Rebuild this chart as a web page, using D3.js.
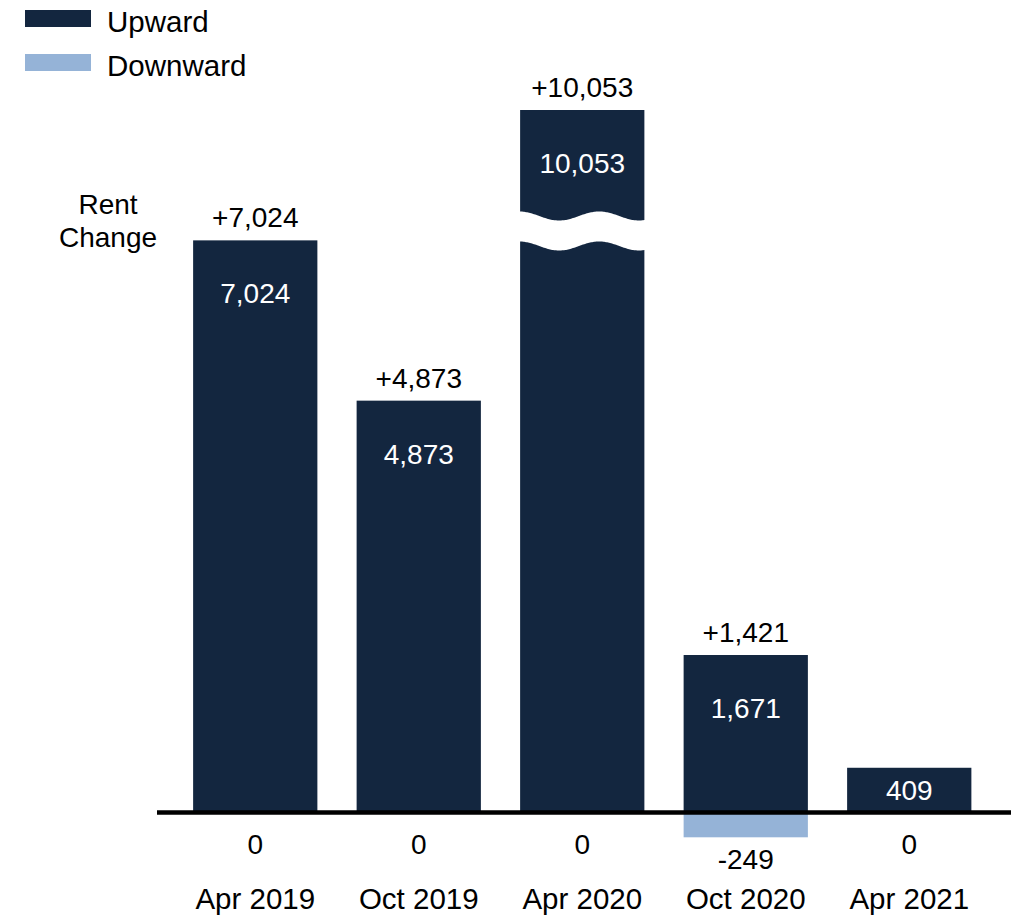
<!DOCTYPE html>
<html>
<head>
<meta charset="utf-8">
<script src="https://cdn.jsdelivr.net/npm/d3@7"></script>
<style>
  body { margin: 0; background: #fff; }
  text { font-family: "Liberation Sans", Arial, sans-serif; }
</style>
</head>
<body>
<div id="chart"></div>
<script>
// Rent change by review period: upward vs downward revisions

////////////////////////////////////////////////////////////////////////
// Data

const periods   = ["Apr 2019", "Oct 2019", "Apr 2020", "Oct 2020", "Apr 2021"];
const upward    = [7024, 4873, 10053, 1671, 409];
const downward  = [0, 0, 0, -249, 0];
const netChange = [7024, 4873, 10053, 1421, null];   // no net label on the last bar

// value where the axis is broken (taller bars get the wavy cut)
const axisCap = 8825;

////////////////////////////////////////////////////////////////////////
// Layout

let width = 1011, height = 915;
let upColor = "#13263f", downColor = "#95b3d7";

let svg = d3.select("#chart").append("svg")
  .attr("width", width)
  .attr("height", height);

// bars are not to a strict linear scale in the original, pow fits better
let x = d3.scaleBand()
  .domain(periods)
  .range([173.5, 991])
  .paddingInner(0.24)
  .paddingOuter(0.12);

let y = d3.scalePow().exponent(0.9)
  .domain([0, axisCap])
  .range([812, 110]);

let rows = periods.map((p, i) => ({
  period: p, up: upward[i], down: downward[i], net: netChange[i]
}));

// plain hyphen for negatives, like the original
let fmt = v => d3.format(",")(v).replace("\u2212", "-");

////////////////////////////////////////////////////////////////////////
// Bars

let g = svg.append("g");

g.selectAll("rect.up")
  .data(rows).enter().append("rect")
  .attr("class", "up")
  .attr("x", d => x(d.period))
  .attr("width", x.bandwidth())
  .attr("y", d => y(Math.min(d.up, axisCap)))
  .attr("height", d => y(0) - y(Math.min(d.up, axisCap)))
  .attr("fill", upColor);

g.selectAll("rect.down")
  .data(rows.filter(d => d.down < 0)).enter().append("rect")
  .attr("class", "down")
  .attr("x", d => x(d.period))
  .attr("width", x.bandwidth())
  .attr("y", y(0))
  .attr("height", d => y(d.down) - y(0) - 3)
  .attr("fill", downColor);

// wavy break on bars taller than the cap
let wave = 80, amp = 4.5;
function breakPath(d) {
  let x0 = x(d.period) - 1, x1 = x0 + x.bandwidth() + 2;
  let top = y(axisCap) + 106, gap = 30;
  let xs = d3.range(x0, x1 + 1, 2);
  let upper = xs.map(v => [v, top - amp * Math.cos(2 * Math.PI * (v - x0) / wave)]);
  let lower = xs.slice().reverse()
    .map(v => [v, top + gap - amp * Math.cos(2 * Math.PI * (v - x0) / wave)]);
  return d3.line().curve(d3.curveBasis)(upper) + "L" +
         d3.line().curve(d3.curveBasis)(lower).slice(1) + "Z";
}

g.selectAll("path.break")
  .data(rows.filter(d => d.up > axisCap)).enter().append("path")
  .attr("class", "break")
  .attr("d", breakPath)
  .attr("fill", "#fff");

// zero line
svg.append("line")
  .attr("x1", 157).attr("x2", width)
  .attr("y1", y(0) + 0.5).attr("y2", y(0) + 0.5)
  .attr("stroke", "#000")
  .attr("stroke-width", 4.5);

////////////////////////////////////////////////////////////////////////
// Labels

let mid = d => x(d.period) + x.bandwidth() / 2;

// net change above each bar
g.selectAll("text.net")
  .data(rows.filter(d => d.net != null)).enter().append("text")
  .attr("class", "net")
  .attr("x", mid)
  .attr("y", d => y(Math.min(d.up, axisCap)) - 13)
  .attr("text-anchor", "middle")
  .attr("font-size", 28)
  .text(d => "+" + fmt(d.net));

// upward value inside the bar
g.selectAll("text.upval")
  .data(rows).enter().append("text")
  .attr("class", "upval")
  .attr("x", mid)
  .attr("y", d => {
    let top = y(Math.min(d.up, axisCap));
    return Math.min(top + 63, (top + y(0)) / 2 + 10);
  })
  .attr("text-anchor", "middle")
  .attr("font-size", 28)
  .attr("fill", "#fff")
  .text(d => fmt(d.up));

// downward value below the line
g.selectAll("text.downval")
  .data(rows).enter().append("text")
  .attr("class", "downval")
  .attr("x", mid)
  .attr("y", d => Math.max(854, y(d.down) + 29))
  .attr("text-anchor", "middle")
  .attr("font-size", 28)
  .text(d => d.down === 0 ? "0" : fmt(d.down));

// period labels
let xAxis = svg.append("g")
  .attr("transform", "translate(0,882)")
  .call(d3.axisBottom(x).tickSize(0).tickPadding(0));
xAxis.select(".domain").remove();
xAxis.selectAll("text")
  .attr("font-size", 29.5)
  .attr("font-family", "Liberation Sans, Arial, sans-serif")
  .attr("fill", "#000")
  .attr("dy", "0.9em");

// axis title
let title = svg.append("text")
  .attr("x", 108)
  .attr("text-anchor", "middle")
  .attr("font-size", 28);
title.append("tspan").attr("x", 108).attr("y", 214).text("Rent");
title.append("tspan").attr("x", 108).attr("y", 247).text("Change");

////////////////////////////////////////////////////////////////////////
// Legend

let legendItems = [["Upward", upColor], ["Downward", downColor]];
let legend = svg.append("g").selectAll("g")
  .data(legendItems).enter().append("g")
  .attr("transform", (d, i) => "translate(25," + (10 + i * 44) + ")");

legend.append("rect")
  .attr("width", 66).attr("height", 17)
  .attr("fill", d => d[1]);

legend.append("text")
  .attr("x", 82).attr("y", 22)
  .attr("font-size", 29.5)
  .text(d => d[0]);
</script>
</body>
</html>
